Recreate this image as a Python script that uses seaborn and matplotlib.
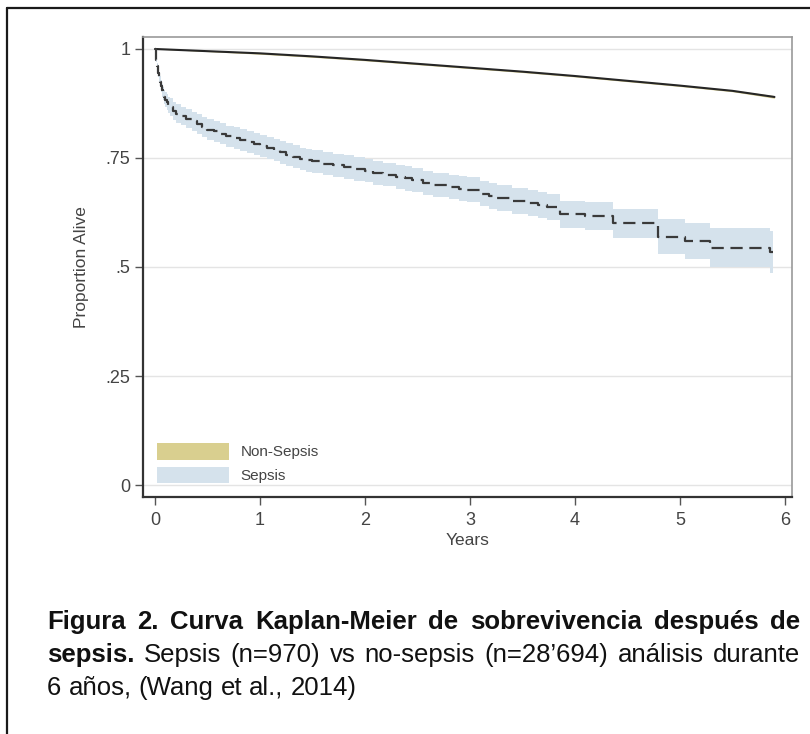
import matplotlib
matplotlib.use("Agg")
import matplotlib.pyplot as plt
import seaborn as sns
import pandas as pd
from matplotlib.patches import Patch
from matplotlib.lines import Line2D
from matplotlib.transforms import IdentityTransform

# ---- data -----------------------------------------------------------------
x_ticks = [0, 1, 2, 3, 4, 5, 6]
y_ticks = [0, 0.25, 0.5, 0.75, 1]
y_tick_labels = ["0", ".25", ".5", ".75", "1"]

nonsepsis_time = [0, 0.5, 1, 1.5, 2, 2.5, 3, 3.5, 4, 4.5, 5, 5.5, 5.9]
nonsepsis_surv = [1.0, 0.995, 0.99, 0.983, 0.975, 0.966, 0.957, 0.948,
                  0.938, 0.927, 0.916, 0.904, 0.89]
nonsepsis_lo = [1.0, 0.994, 0.988, 0.981, 0.973, 0.964, 0.955, 0.946,
                0.936, 0.925, 0.914, 0.902, 0.887]
nonsepsis_hi = [1.0, 0.996, 0.992, 0.985, 0.977, 0.968, 0.959, 0.950,
                0.940, 0.929, 0.918, 0.906, 0.893]

sepsis_time = [0, 0.01, 0.02, 0.03, 0.04, 0.05, 0.06, 0.07, 0.08, 0.09,
               0.10, 0.11, 0.125, 0.14, 0.17, 0.2, 0.25, 0.3, 0.35, 0.4,
               0.45, 0.5, 0.56, 0.62, 0.68, 0.75, 0.81, 0.88, 0.94, 1.0,
               1.07, 1.13, 1.19, 1.25, 1.31, 1.38, 1.44, 1.5, 1.6, 1.7,
               1.8, 1.9, 2.0, 2.08, 2.17, 2.3, 2.38, 2.45, 2.55, 2.65,
               2.8, 2.9, 2.97, 3.1, 3.18, 3.26, 3.4, 3.55, 3.65, 3.73,
               3.86, 4.1, 4.36, 4.79, 5.05, 5.29, 5.86, 5.89]
sepsis_surv = [1.000, 0.975, 0.960, 0.945, 0.935, 0.925, 0.915, 0.905, 0.897, 0.890,
               0.884, 0.878, 0.872, 0.867, 0.858, 0.852, 0.846, 0.840, 0.834, 0.828,
               0.821, 0.815, 0.811, 0.806, 0.800, 0.795, 0.791, 0.786, 0.782, 0.778,
               0.773, 0.768, 0.763, 0.758, 0.753, 0.748, 0.745, 0.742, 0.737, 0.733,
               0.729, 0.725, 0.721, 0.716, 0.712, 0.706, 0.703, 0.699, 0.693, 0.688,
               0.683, 0.680, 0.677, 0.668, 0.663, 0.658, 0.652, 0.646, 0.642, 0.638,
               0.621, 0.616, 0.600, 0.569, 0.560, 0.544, 0.534, 0.534]
sepsis_lo = [1.000, 0.970, 0.952, 0.935, 0.924, 0.913, 0.902, 0.891, 0.882, 0.874,
             0.867, 0.860, 0.853, 0.847, 0.838, 0.831, 0.825, 0.818, 0.812, 0.805,
             0.798, 0.791, 0.787, 0.782, 0.776, 0.770, 0.766, 0.761, 0.757, 0.753,
             0.748, 0.743, 0.737, 0.732, 0.727, 0.722, 0.719, 0.716, 0.711, 0.706,
             0.702, 0.698, 0.694, 0.689, 0.685, 0.679, 0.675, 0.671, 0.665, 0.660,
             0.655, 0.651, 0.648, 0.639, 0.634, 0.629, 0.622, 0.616, 0.612, 0.608,
             0.590, 0.584, 0.566, 0.529, 0.518, 0.499, 0.486, 0.486]
sepsis_hi = [1.000, 0.980, 0.968, 0.955, 0.946, 0.937, 0.928, 0.919, 0.912, 0.906,
             0.901, 0.896, 0.891, 0.887, 0.878, 0.873, 0.867, 0.862, 0.856, 0.851,
             0.844, 0.839, 0.835, 0.830, 0.824, 0.820, 0.816, 0.811, 0.807, 0.803,
             0.798, 0.793, 0.789, 0.784, 0.779, 0.774, 0.771, 0.768, 0.763, 0.760,
             0.756, 0.752, 0.748, 0.743, 0.739, 0.733, 0.731, 0.727, 0.721, 0.716,
             0.711, 0.709, 0.706, 0.697, 0.692, 0.687, 0.682, 0.676, 0.672, 0.668,
             0.652, 0.648, 0.634, 0.609, 0.602, 0.589, 0.582, 0.582]

group_labels = ["Non-Sepsis", "Sepsis"]
band_colors = ["#d9cf8f", "#d5e2ec"]

caption_lines = [
    [("Figura 2. Curva Kaplan-Meier de sobrevivencia después de", "bold")],
    [("sepsis.", "bold"),
     ("Sepsis (n=970) vs no-sepsis (n=28\u2019694) análisis durante", "normal")],
    [("6 años, (Wang et al., 2014)", "normal")],
]

# ---- style ----------------------------------------------------------------
sns.set_theme(style="white")
plt.rcParams["font.family"] = ["Liberation Sans", "DejaVu Sans"]

W, H = 810, 734
fig = plt.figure(figsize=(W / 100, H / 100), dpi=100)
fig.patch.set_facecolor("white")

ax_left, ax_right, ax_top, ax_bottom = 143, 792, 37, 497
ax = fig.add_axes([ax_left / W, 1 - ax_bottom / H,
                   (ax_right - ax_left) / W, (ax_bottom - ax_top) / H])

df_non = pd.DataFrame({"Years": nonsepsis_time, "Proportion": nonsepsis_surv})
df_sep = pd.DataFrame({"Years": sepsis_time, "Proportion": sepsis_surv})

# confidence bands
ax.fill_between(sepsis_time, sepsis_lo, sepsis_hi, step="post",
                color=band_colors[1], linewidth=0, zorder=1)
ax.fill_between(nonsepsis_time, nonsepsis_lo, nonsepsis_hi,
                color=band_colors[0], linewidth=0, zorder=1)

# survival curves
sns.lineplot(data=df_non, x="Years", y="Proportion", ax=ax, estimator=None,
             color="#262626", linewidth=1.5, zorder=3)
sns.lineplot(data=df_sep, x="Years", y="Proportion", ax=ax, estimator=None,
             drawstyle="steps-post", color="#3a3a3a", linewidth=1.6,
             dashes=False, zorder=3)
ax.lines[-1].set_linestyle((0, (5.5, 3)))

# axes styling
ax.set_xlim(-0.114, 6.067)
ax.set_ylim(-0.0275, 1.0275)
ax.set_xticks(x_ticks)
ax.set_xticklabels([str(t) for t in x_ticks])
ax.set_yticks(y_ticks)
ax.set_yticklabels(y_tick_labels)
ax.grid(False)
for yv in y_ticks:
    ax.axhline(yv, color="#e4e4e4", linewidth=1.0, zorder=0)

ax.tick_params(axis="both", direction="out", length=6, width=1.0,
               color="#555555", labelcolor="#444444", labelsize=13)
ax.tick_params(axis="x", pad=5, bottom=True)
ax.tick_params(axis="y", pad=3, left=True)

ax.set_xlabel("Years", fontsize=12.5, color="#444444", labelpad=3)
ax.set_ylabel("Proportion Alive", fontsize=12.5, color="#444444", labelpad=12)

for side in ["left", "bottom"]:
    ax.spines[side].set_color("#333333")
    ax.spines[side].set_linewidth(1.6)
for side in ["top", "right"]:
    ax.spines[side].set_color("#9a9a9a")
    ax.spines[side].set_linewidth(1.2)

handles = [Patch(facecolor=c, edgecolor="none") for c in band_colors]
leg = ax.legend(handles, group_labels, loc="lower left",
                bbox_to_anchor=(0.022, 0.03), frameon=False, fontsize=11,
                handlelength=4.7, handleheight=1.3, labelspacing=0.45,
                handletextpad=0.75, borderpad=0, borderaxespad=0)
for t in leg.get_texts():
    t.set_color("#444444")

# outer frame (left and top edges)
fig.add_artist(Line2D([7 / W, 7 / W], [0, 1 - 8 / H], transform=fig.transFigure,
                      color="#1a1a1a", linewidth=1.6))
fig.add_artist(Line2D([7 / W, 1], [1 - 8 / H, 1 - 8 / H], transform=fig.transFigure,
                      color="#1a1a1a", linewidth=1.6))

# caption, justified between two margins
renderer = fig.canvas.get_renderer()
cap_x0, cap_x1 = 47, 800
cap_size = 18.5
line_y = [622, 655, 688]


def word_width(text, weight):
    t = fig.text(0, 0, text, fontsize=cap_size, fontweight=weight,
                 transform=IdentityTransform())
    w = t.get_window_extent(renderer).width
    t.remove()
    return w


def draw_line(segments, y_top, justify):
    words = []
    for txt, weight in segments:
        for w in txt.split():
            words.append((w, weight))
    widths = [word_width(w, wt) for w, wt in words]
    sp_w = word_width("a a", "normal") - word_width("aa", "normal")
    if justify and len(words) > 1:
        gap = (cap_x1 - cap_x0 - sum(widths)) / (len(words) - 1)
    else:
        gap = sp_w
    x = cap_x0
    y = H - y_top
    for (w, wt), wd in zip(words, widths):
        fig.text(x, y, w, fontsize=cap_size, fontweight=wt, color="#111111",
                 va="center", ha="left", transform=IdentityTransform())
        x += wd + gap


draw_line(caption_lines[0], line_y[0], True)
draw_line(caption_lines[1], line_y[1], True)
draw_line(caption_lines[2], line_y[2], False)

fig.savefig("out.png", dpi=100, facecolor="white")
